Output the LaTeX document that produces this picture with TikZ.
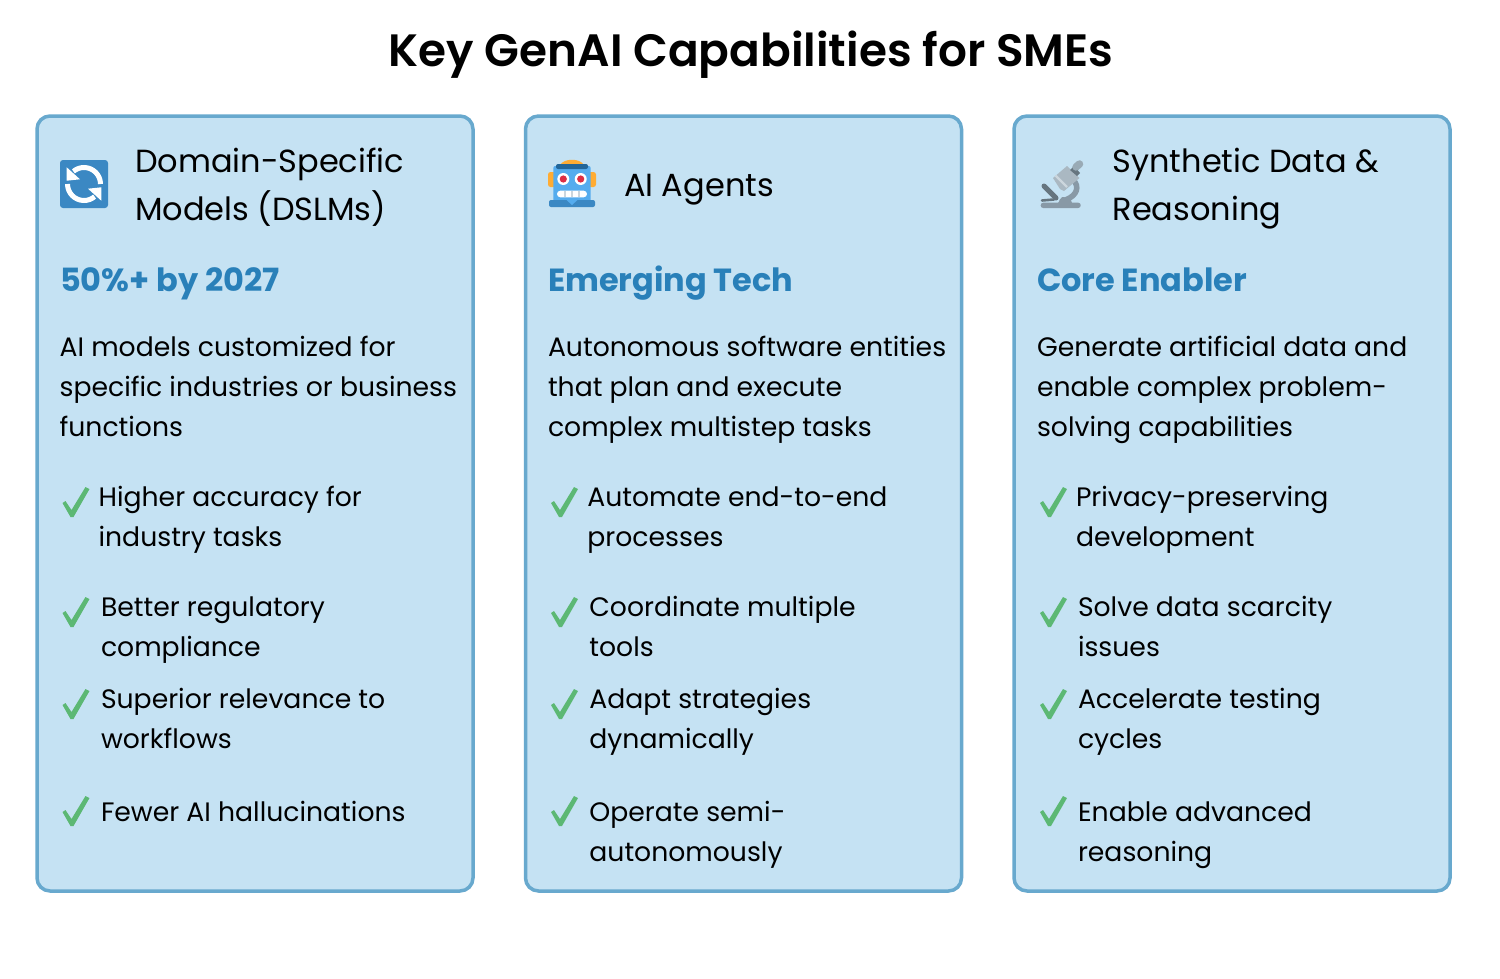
\documentclass[tikz,border=0pt]{standalone}
\usepackage{fontspec}
\setmainfont{Poppins}
\newfontfamily\semib{Poppins SemiBold}
\newfontfamily\boldf{Poppins Bold}
\definecolor{cardfill}{HTML}{C5E2F3}
\definecolor{cardline}{HTML}{68A9CE}
\definecolor{subc}{HTML}{2980B9}
\definecolor{chk}{HTML}{5CB874}
\definecolor{twblue}{HTML}{3B88C3}
\definecolor{twsky}{HTML}{55ACEE}
\definecolor{twnavy}{HTML}{226699}
\definecolor{twor}{HTML}{FFAC33}
\definecolor{twred}{HTML}{DD2E44}
\definecolor{gra}{HTML}{99AAB5}
\definecolor{grb}{HTML}{66757F}
\definecolor{grc}{HTML}{CCD6DD}
\definecolor{grd}{HTML}{8899A6}
\definecolor{gre}{HTML}{AAB8C2}
\tikzset{
  x=1pt,y=-1pt,
  card/.style={draw=cardline,line width=3.5pt,fill=cardfill,rounded corners=13pt},
  base/.style={anchor=base west,inner sep=0pt,outer sep=0pt,text=black},
  title/.style={base,anchor=base,font=\semib\fontsize{45.33}{48}\selectfont},
  head/.style={base,font=\fontsize{32}{40}\selectfont},
  sub/.style={base,text=subc,font=\boldf\fontsize{32}{40}\selectfont},
  body/.style={base,font=\fontsize{26.67}{40}\selectfont},
  checkmark/.pic={\fill[chk,line join=round] (0,15) -- (3,13) -- (9,22) -- (23,-1) -- (27,1) -- (11,29) -- (8,29) -- cycle;}
}
\begin{document}
\begin{tikzpicture}
\useasboundingbox (0,0) rectangle (1500,978);
\fill[white] (0,0) rectangle (1500,978);
\node[title] (ttl) at (751,66) {Key GenAI Capabilities for SMEs};
% cards
\draw[card] (37,116) rectangle (473,891);
\draw[card] (525.5,116) rectangle (961.5,891);
\draw[card] (1014,116) rectangle (1450,891);
% icon 1
\fill[twblue,rounded corners=3pt] (60,160) rectangle (108,208);
\begin{scope}[shift={(84,184)},y=1pt]
\draw[white,line width=5pt] (16.5,0) arc[start angle=0,end angle=130,radius=16.5];
\draw[white,line width=5pt] (-16.5,0) arc[start angle=180,end angle=310,radius=16.5];
\fill[white] (-17.3,16.7) -- (-17.3,3.3) -- (-4,4.7) -- cycle;
\fill[white] (17.3,-16.7) -- (17.3,-3.3) -- (4,-4.7) -- cycle;
\end{scope}
% icon 2 robot
\begin{scope}[shift={(530,140)}]
\fill[twor] (30,25) .. controls (34,18) and (50,18) .. (54,25) -- cycle;
\fill[twor,rounded corners=2.5pt] (18,32) rectangle (26,47);
\fill[twor,rounded corners=2.5pt] (58,32) rectangle (66,47);
\fill[twsky,rounded corners=2pt] (23.3,26) rectangle (60.7,62);
\fill[twnavy,rounded corners=2pt] (26,24) rectangle (58,29);
\fill[white] (33.3,39) circle (6); \fill[white] (50.7,39) circle (6);
\fill[twred] (33.3,39) circle (3.6); \fill[twred] (50.7,39) circle (3.6);
\fill[white,rounded corners=3.3pt] (27,50.7) rectangle (57,57.3);
\foreach \sx in {35,42,49} \fill[grc] (\sx-1,50.7) rectangle (\sx+1,57.3);
\fill[twblue,rounded corners=2pt] (19,60) rectangle (65,67);
\fill[twsky] (36.5,60) -- (47.5,60) -- (42,65) -- cycle;
\end{scope}
% icon 3 microscope
\begin{scope}[shift={(1020,140)}]
\draw[grd,line width=5.5pt,line cap=round] (55,42) .. controls (60,50) and (54,58) .. (42,61);
\fill[grd] (38,63) -- (42,57) -- (50,58) -- (52,63) -- cycle;
\fill[grd,rounded corners=2.5pt] (20.7,62.7) rectangle (60.7,68);
\draw[grb,line width=5pt,line cap=round] (24,46) -- (36,58);
\draw[grb,line width=2.6pt,line cap=round] (22,60.5) -- (34,59.5);
\fill[gre] (33,38) -- (47,26) -- (59.5,38) -- (44,51) -- (40,49) -- cycle;
\draw[grc,line width=2.2pt] (35.5,35.5) -- (47,47);
\fill[grb] (50,30) -- (54,26) -- (60,33) -- (57,36) -- cycle;
\draw[gra,line width=7.5pt,line cap=round] (56,27) -- (59.5,24);
\end{scope}
% text col 1
\node[head] (a1) at (135,172) {Domain-Specific};
\node[head] (a2) at (135,220) {Models (DSLMs)};
\node[sub] (a3) at (60,291) {50\%+ by 2027};
\node[body] (a4) at (59.6,356) {AI models customized for};
\node[body] (a5) at (59.6,396) {specific industries or business};
\node[body] (a6) at (59.6,436) {functions};
\node[body] (a7) at (98.6,506) {Higher accuracy for};
\node[body] (a8) at (98.6,546) {industry tasks};
\node[body] (a9) at (101,616) {Better regulatory};
\node[body] (a10) at (101,656) {compliance};
\node[body] (a11) at (101,708) {Superior relevance to};
\node[body] (a12) at (101,748) {workflows};
\node[body] (a13) at (101,821) {Fewer AI hallucinations};
% col 2
\node[head] (b1) at (624,196) {AI Agents};
\node[sub] (b3) at (548,291) {Emerging Tech};
\node[body] (b4) at (548,356) {Autonomous software entities};
\node[body] (b5) at (548,396) {that plan and execute};
\node[body] (b6) at (548,436) {complex multistep tasks};
\node[body] (b7) at (587.4,506) {Automate end-to-end};
\node[body] (b8) at (587.4,546) {processes};
\node[body] (b9) at (589.4,616) {Coordinate multiple};
\node[body] (b10) at (589.4,656) {tools};
\node[body] (b11) at (589.4,708) {Adapt strategies};
\node[body] (b12) at (589.4,748) {dynamically};
\node[body] (b13) at (589.4,821) {Operate semi-};
\node[body] (b14) at (589.4,861) {autonomously};
% col 3
\node[head] (c1) at (1112.6,172) {Synthetic Data \&};
\node[head] (c2) at (1112.6,220) {Reasoning};
\node[sub] (c3) at (1037,291) {Core Enabler};
\node[body] (c4) at (1037,356) {Generate artificial data and};
\node[body] (c5) at (1037,396) {enable complex problem-};
\node[body] (c6) at (1037,436) {solving capabilities};
\node[body] (c7) at (1076,506) {Privacy-preserving};
\node[body] (c8) at (1076,546) {development};
\node[body] (c9) at (1078,616) {Solve data scarcity};
\node[body] (c10) at (1078,656) {issues};
\node[body] (c11) at (1078,708) {Accelerate testing};
\node[body] (c12) at (1078,748) {cycles};
\node[body] (c13) at (1078,821) {Enable advanced};
\node[body] (c14) at (1078,861) {reasoning};
% checks
\foreach \x in {62.5,551,1040}
  \foreach \y in {488,598,690,797}
    \pic at (\x,\y) {checkmark};
\end{tikzpicture}
\end{document}
